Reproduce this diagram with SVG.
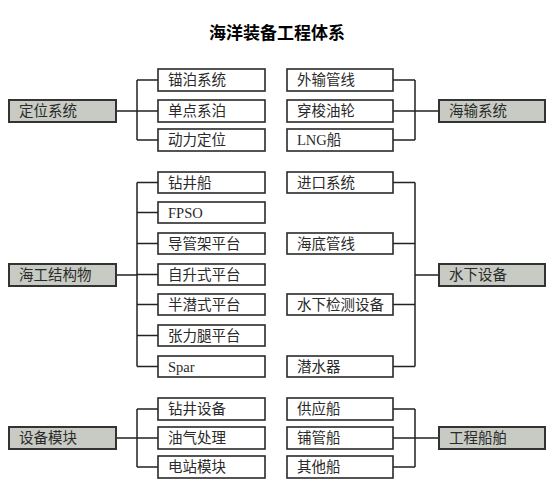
<svg xmlns="http://www.w3.org/2000/svg" width="557" height="490" viewBox="0 0 557 490">
<style>
.b{fill:#fff;stroke:#2a2a2a;stroke-width:1.6}
.g{fill:#c7cbc3;stroke:#333;stroke-width:2}
.t{font-family:"Liberation Serif","Noto Sans CJK SC",sans-serif;font-size:14.5px;fill:#2a2a2a}
.ti{font-family:"Noto Sans CJK SC",sans-serif;font-size:17px;font-weight:bold;fill:#000}
.c{fill:none;stroke:#222;stroke-width:1.5}
</style>
<rect width="557" height="490" fill="#fff"/>
<text class="ti" x="277" y="39" text-anchor="middle">海洋装备工程体系</text>
<g id="connectors">
<path class="c" d="M116 111H137M137 80V140M137 80H158M137 111H158M137 140H158"/>
<path class="c" d="M439 111H415M415 80V140M415 80H393M415 111H393M415 140H393"/>
<path class="c" d="M116 275H137M137 182.5V366.5M137 182.5H158M137 212.5H158M137 243.5H158M137 274.5H158M137 304.5H158M137 335.5H158M137 366.5H158"/>
<path class="c" d="M439 275H415M415 182.5V366.5M415 182.5H393M415 243.5H393M415 304.5H393M415 366.5H393"/>
<path class="c" d="M116 438H137M137 409V467M137 409H158M137 438H158M137 467H158"/>
<path class="c" d="M439 438H415M415 409V467M415 409H393M415 438H393M415 467H393"/>
</g>
<g id="n_dingwei"><rect class="g" x="9" y="100" width="107" height="22"/><text class="t" x="19" y="116">定位系统</text></g>
<g id="n_maobo"><rect class="b" x="158" y="69" width="107" height="22"/><text class="t" x="168" y="85">锚泊系统</text></g>
<g id="n_dandian"><rect class="b" x="158" y="100" width="107" height="22"/><text class="t" x="168" y="116">单点系泊</text></g>
<g id="n_dongli"><rect class="b" x="158" y="129" width="107" height="22"/><text class="t" x="168" y="145">动力定位</text></g>
<g id="n_waishu"><rect class="b" x="287" y="69" width="106" height="22"/><text class="t" x="297" y="85">外输管线</text></g>
<g id="n_chuansuo"><rect class="b" x="287" y="100" width="106" height="22"/><text class="t" x="297" y="116">穿梭油轮</text></g>
<g id="n_lng"><rect class="b" x="287" y="129" width="106" height="22"/><text class="t" x="297" y="145">LNG船</text></g>
<g id="n_haishu"><rect class="g" x="439" y="100" width="106" height="22"/><text class="t" x="449" y="116">海输系统</text></g>
<g id="n_haigong"><rect class="g" x="9" y="264" width="107" height="22"/><text class="t" x="19" y="280">海工结构物</text></g>
<g id="n_zuanjingchuan"><rect class="b" x="158" y="172" width="107" height="21"/><text class="t" x="168" y="187.5">钻井船</text></g>
<g id="n_fpso"><rect class="b" x="158" y="202" width="107" height="21"/><text class="t" x="168" y="217.5">FPSO</text></g>
<g id="n_daoguanjia"><rect class="b" x="158" y="233" width="107" height="21"/><text class="t" x="168" y="248.5">导管架平台</text></g>
<g id="n_zisheng"><rect class="b" x="158" y="264" width="107" height="21"/><text class="t" x="168" y="279.5">自升式平台</text></g>
<g id="n_banqian"><rect class="b" x="158" y="294" width="107" height="21"/><text class="t" x="168" y="309.5">半潜式平台</text></g>
<g id="n_zhangli"><rect class="b" x="158" y="325" width="107" height="21"/><text class="t" x="168" y="340.5">张力腿平台</text></g>
<g id="n_spar"><rect class="b" x="158" y="356" width="107" height="21"/><text class="t" x="168" y="371.5">Spar</text></g>
<g id="n_jinkou"><rect class="b" x="287" y="172" width="106" height="21"/><text class="t" x="297" y="187.5">进口系统</text></g>
<g id="n_haidi"><rect class="b" x="287" y="233" width="106" height="21"/><text class="t" x="297" y="248.5">海底管线</text></g>
<g id="n_jiance"><rect class="b" x="287" y="294" width="106" height="21"/><text class="t" x="297" y="309.5">水下检测设备</text></g>
<g id="n_qianshui"><rect class="b" x="287" y="356" width="106" height="21"/><text class="t" x="297" y="371.5">潜水器</text></g>
<g id="n_shuixia"><rect class="g" x="439" y="264" width="106" height="22"/><text class="t" x="449" y="280">水下设备</text></g>
<g id="n_shebei"><rect class="g" x="9" y="427" width="107" height="22"/><text class="t" x="19" y="443">设备模块</text></g>
<g id="n_zuanjingshebei"><rect class="b" x="158" y="398" width="107" height="22"/><text class="t" x="168" y="414">钻井设备</text></g>
<g id="n_youqi"><rect class="b" x="158" y="427" width="107" height="22"/><text class="t" x="168" y="443">油气处理</text></g>
<g id="n_dianzhan"><rect class="b" x="158" y="456" width="107" height="22"/><text class="t" x="168" y="472">电站模块</text></g>
<g id="n_gongying"><rect class="b" x="287" y="398" width="106" height="22"/><text class="t" x="297" y="414">供应船</text></g>
<g id="n_puguan"><rect class="b" x="287" y="427" width="106" height="22"/><text class="t" x="297" y="443">铺管船</text></g>
<g id="n_qita"><rect class="b" x="287" y="456" width="106" height="22"/><text class="t" x="297" y="472">其他船</text></g>
<g id="n_gongcheng"><rect class="g" x="439" y="427" width="106" height="22"/><text class="t" x="449" y="443">工程船舶</text></g>
</svg>
